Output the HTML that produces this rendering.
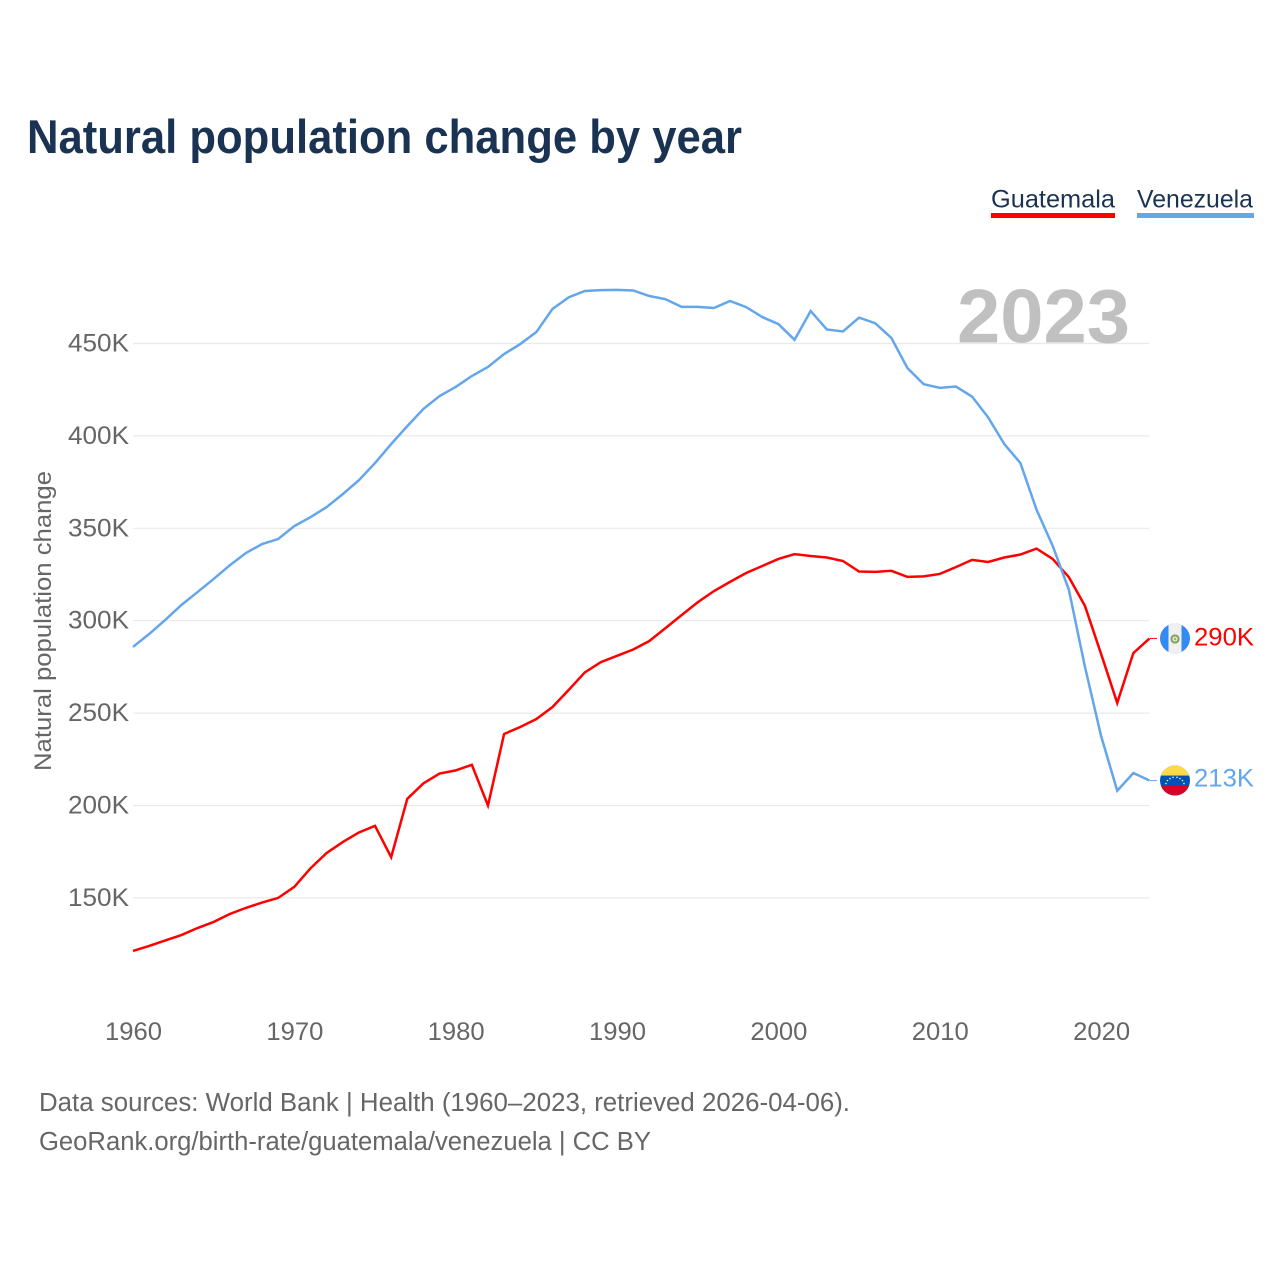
<!DOCTYPE html>
<html lang="en">
<head>
<meta charset="utf-8">
<title>Natural population change by year</title>
<style>
html,body{margin:0;padding:0;background:#fff;}
svg{display:block;font-family:"Liberation Sans",sans-serif;}
</style>
</head>
<body>
<svg id="chart" xmlns="http://www.w3.org/2000/svg" width="1280" height="1280" viewBox="0 0 1280 1280">
  <rect x="0" y="0" width="1280" height="1280" fill="#ffffff"/>
  <text x="27" y="153" font-size="47" font-weight="700" fill="#1a3353" textLength="715" lengthAdjust="spacingAndGlyphs">Natural population change by year</text>

  <g>
    <g>
      <text x="991" y="207.5" font-size="25" fill="#1a3353" textLength="124" lengthAdjust="spacingAndGlyphs">Guatemala</text>
      <rect x="991" y="213" width="124" height="5" fill="#ff0000"/>
    </g>
    <g>
      <text x="1137" y="207.5" font-size="25" fill="#1a3353" textLength="116" lengthAdjust="spacingAndGlyphs">Venezuela</text>
      <rect x="1137" y="213" width="117" height="5" fill="#63a6ec"/>
    </g>
  </g>

  <g id="grid"></g>
  <text x="957" y="342.5" font-size="76" font-weight="700" fill="#c0c0c0" textLength="173" lengthAdjust="spacingAndGlyphs">2023</text>
  <g id="yticks"></g>
  <g id="xticks"></g>
  <text transform="translate(51,621) rotate(-90)" text-anchor="middle" font-size="24" fill="#666666" textLength="300" lengthAdjust="spacingAndGlyphs">Natural population change</text>
  <g id="series"></g>

  <defs>
    <clipPath id="flag-clip"><circle cx="0" cy="0" r="15"/></clipPath>
  </defs>

  <g id="end-guatemala">
    <line x1="-25" y1="0" x2="-18" y2="0" stroke="#ff0000" stroke-width="1"/>
    <g clip-path="url(#flag-clip)">
      <rect x="-15" y="-15" width="30" height="30" fill="#338af3"/>
      <rect x="-6.5" y="-15" width="13" height="30" fill="#f0f0f0"/>
      <circle cx="0" cy="0.5" r="3.6" fill="none" stroke="#7da35c" stroke-width="2"/>
      <circle cx="0" cy="0.5" r="1.4" fill="#b9a878"/>
    </g>
    <text x="19" y="7" font-size="25" fill="#ff0000" textLength="60" lengthAdjust="spacingAndGlyphs">290K</text>
  </g>

  <g id="end-venezuela">
    <line x1="-25" y1="0" x2="-18" y2="0" stroke="#63a6ec" stroke-width="1"/>
    <g clip-path="url(#flag-clip)">
      <rect x="-15" y="-15" width="30" height="30" fill="#0052b4"/>
      <rect x="-15" y="-15" width="30" height="10" fill="#ffda44"/>
      <rect x="-15" y="5" width="30" height="10" fill="#d80027"/>
      <g fill="#f0f0f0">
        <circle cx="-9" cy="3" r="0.8"/><circle cx="-7.5" cy="0" r="0.8"/><circle cx="-5" cy="-2" r="0.8"/>
        <circle cx="-2" cy="-3.2" r="0.8"/><circle cx="2" cy="-3.2" r="0.8"/><circle cx="5" cy="-2" r="0.8"/>
        <circle cx="7.5" cy="0" r="0.8"/><circle cx="9" cy="3" r="0.8"/>
      </g>
    </g>
    <text x="19" y="6" font-size="25" fill="#63a6ec" textLength="60" lengthAdjust="spacingAndGlyphs">213K</text>
  </g>

  <g>
    <text x="39" y="1111" font-size="25.5" fill="#666666" textLength="811" lengthAdjust="spacingAndGlyphs">Data sources: World Bank | Health (1960–2023, retrieved 2026-04-06).</text>
    <text x="39" y="1150" font-size="25.5" fill="#666666" textLength="612" lengthAdjust="spacingAndGlyphs">GeoRank.org/birth-rate/guatemala/venezuela | CC BY</text>
  </g>
</svg>

<script>
const years = [1960,1961,1962,1963,1964,1965,1966,1967,1968,1969,1970,1971,1972,1973,1974,1975,1976,1977,1978,1979,1980,1981,1982,1983,1984,1985,1986,1987,1988,1989,1990,1991,1992,1993,1994,1995,1996,1997,1998,1999,2000,2001,2002,2003,2004,2005,2006,2007,2008,2009,2010,2011,2012,2013,2014,2015,2016,2017,2018,2019,2020,2021,2022,2023];
const guatemala = [121.3,124,127,129.9,133.7,137,141.3,144.6,147.5,150,156,166,174.3,180.2,185.4,189,172,203.6,212,217.3,219,222,200,238.7,242.5,246.8,253.3,262.5,272,277.6,281,284.4,289,296,303,310,316,321,325.8,329.6,333.4,336,335,334.2,332.3,326.6,326.4,327,323.7,324,325.3,329,332.9,331.8,334.2,335.8,339,333.4,323.6,308,282,255.5,282.5,290.4];
const venezuela = [285.8,292.8,300.4,308.5,315.5,322.6,330,336.6,341.5,344.2,351.2,356,361.5,368.5,376,385.3,395.6,405.3,414.6,421.6,426.5,432.4,437.3,444.3,449.7,456.2,468.7,475,478.4,478.9,479,478.7,475.7,474,469.8,469.8,469.2,473,469.7,464.3,460.5,452,467.6,457.6,456.5,464,461,453,436.7,428,426,426.7,421.3,410,395.6,385.3,360,340.5,316.8,275,237.6,208,217.6,213.5];
const yTickValues = [150,200,250,300,350,400,450];
const xTickValues = [1960,1970,1980,1990,2000,2010,2020];

const NS = 'http://www.w3.org/2000/svg';
function xScale(year) { return 133 + (year - 1960) * (1149.5 - 133) / 63; }
function yScale(value) { return 805.5 - (value - 200) * (805.5 - 343.5) / 250; }
function make(tag, attrs, parent) {
  const el = document.createElementNS(NS, tag);
  for (const k in attrs) el.setAttribute(k, attrs[k]);
  parent.appendChild(el);
  return el;
}

const gridG = document.getElementById('grid');
const yG = document.getElementById('yticks');
const xG = document.getElementById('xticks');
const seriesG = document.getElementById('series');

yTickValues.forEach(function (v) {
  const line = make('line', {x1: 133, x2: 1149.5, y1: yScale(v), y2: yScale(v), stroke: '#e9e9e9', 'stroke-width': 1.2}, gridG);
  
  
  const label = make('text', {x: 129, y: yScale(v) + 8, 'text-anchor': 'end', 'font-size': 25, fill: '#666666', textLength: 61, lengthAdjust: 'spacingAndGlyphs'}, yG);
  label.textContent = v + 'K';
  
  
});

xTickValues.forEach(function (yr) {
  const label = make('text', {x: xScale(yr) + 0.5, y: 1040, 'text-anchor': 'middle', 'font-size': 25, fill: '#666666', textLength: 57, lengthAdjust: 'spacingAndGlyphs'}, xG);
  label.textContent = yr;
  
  
});

function pathFor(values) {
  return values.map(function (v, i) {
    return (i ? 'L' : 'M') + xScale(years[i]).toFixed(2) + ' ' + yScale(v).toFixed(2);
  }).join(' ');
}

const lineGuatemala = make('path', {d: pathFor(guatemala), fill: 'none', stroke: '#ff0000', 'stroke-width': 2.5, 'stroke-linejoin': 'miter'}, seriesG);



const lineVenezuela = make('path', {d: pathFor(venezuela), fill: 'none', stroke: '#63a6ec', 'stroke-width': 2.5, 'stroke-linejoin': 'miter'}, seriesG);



document.getElementById('end-guatemala').setAttribute('transform', 'translate(1175,' + yScale(guatemala[guatemala.length - 1]).toFixed(2) + ')');
document.getElementById('end-venezuela').setAttribute('transform', 'translate(1175,' + yScale(venezuela[venezuela.length - 1]).toFixed(2) + ')');
</script>
</body>
</html>
